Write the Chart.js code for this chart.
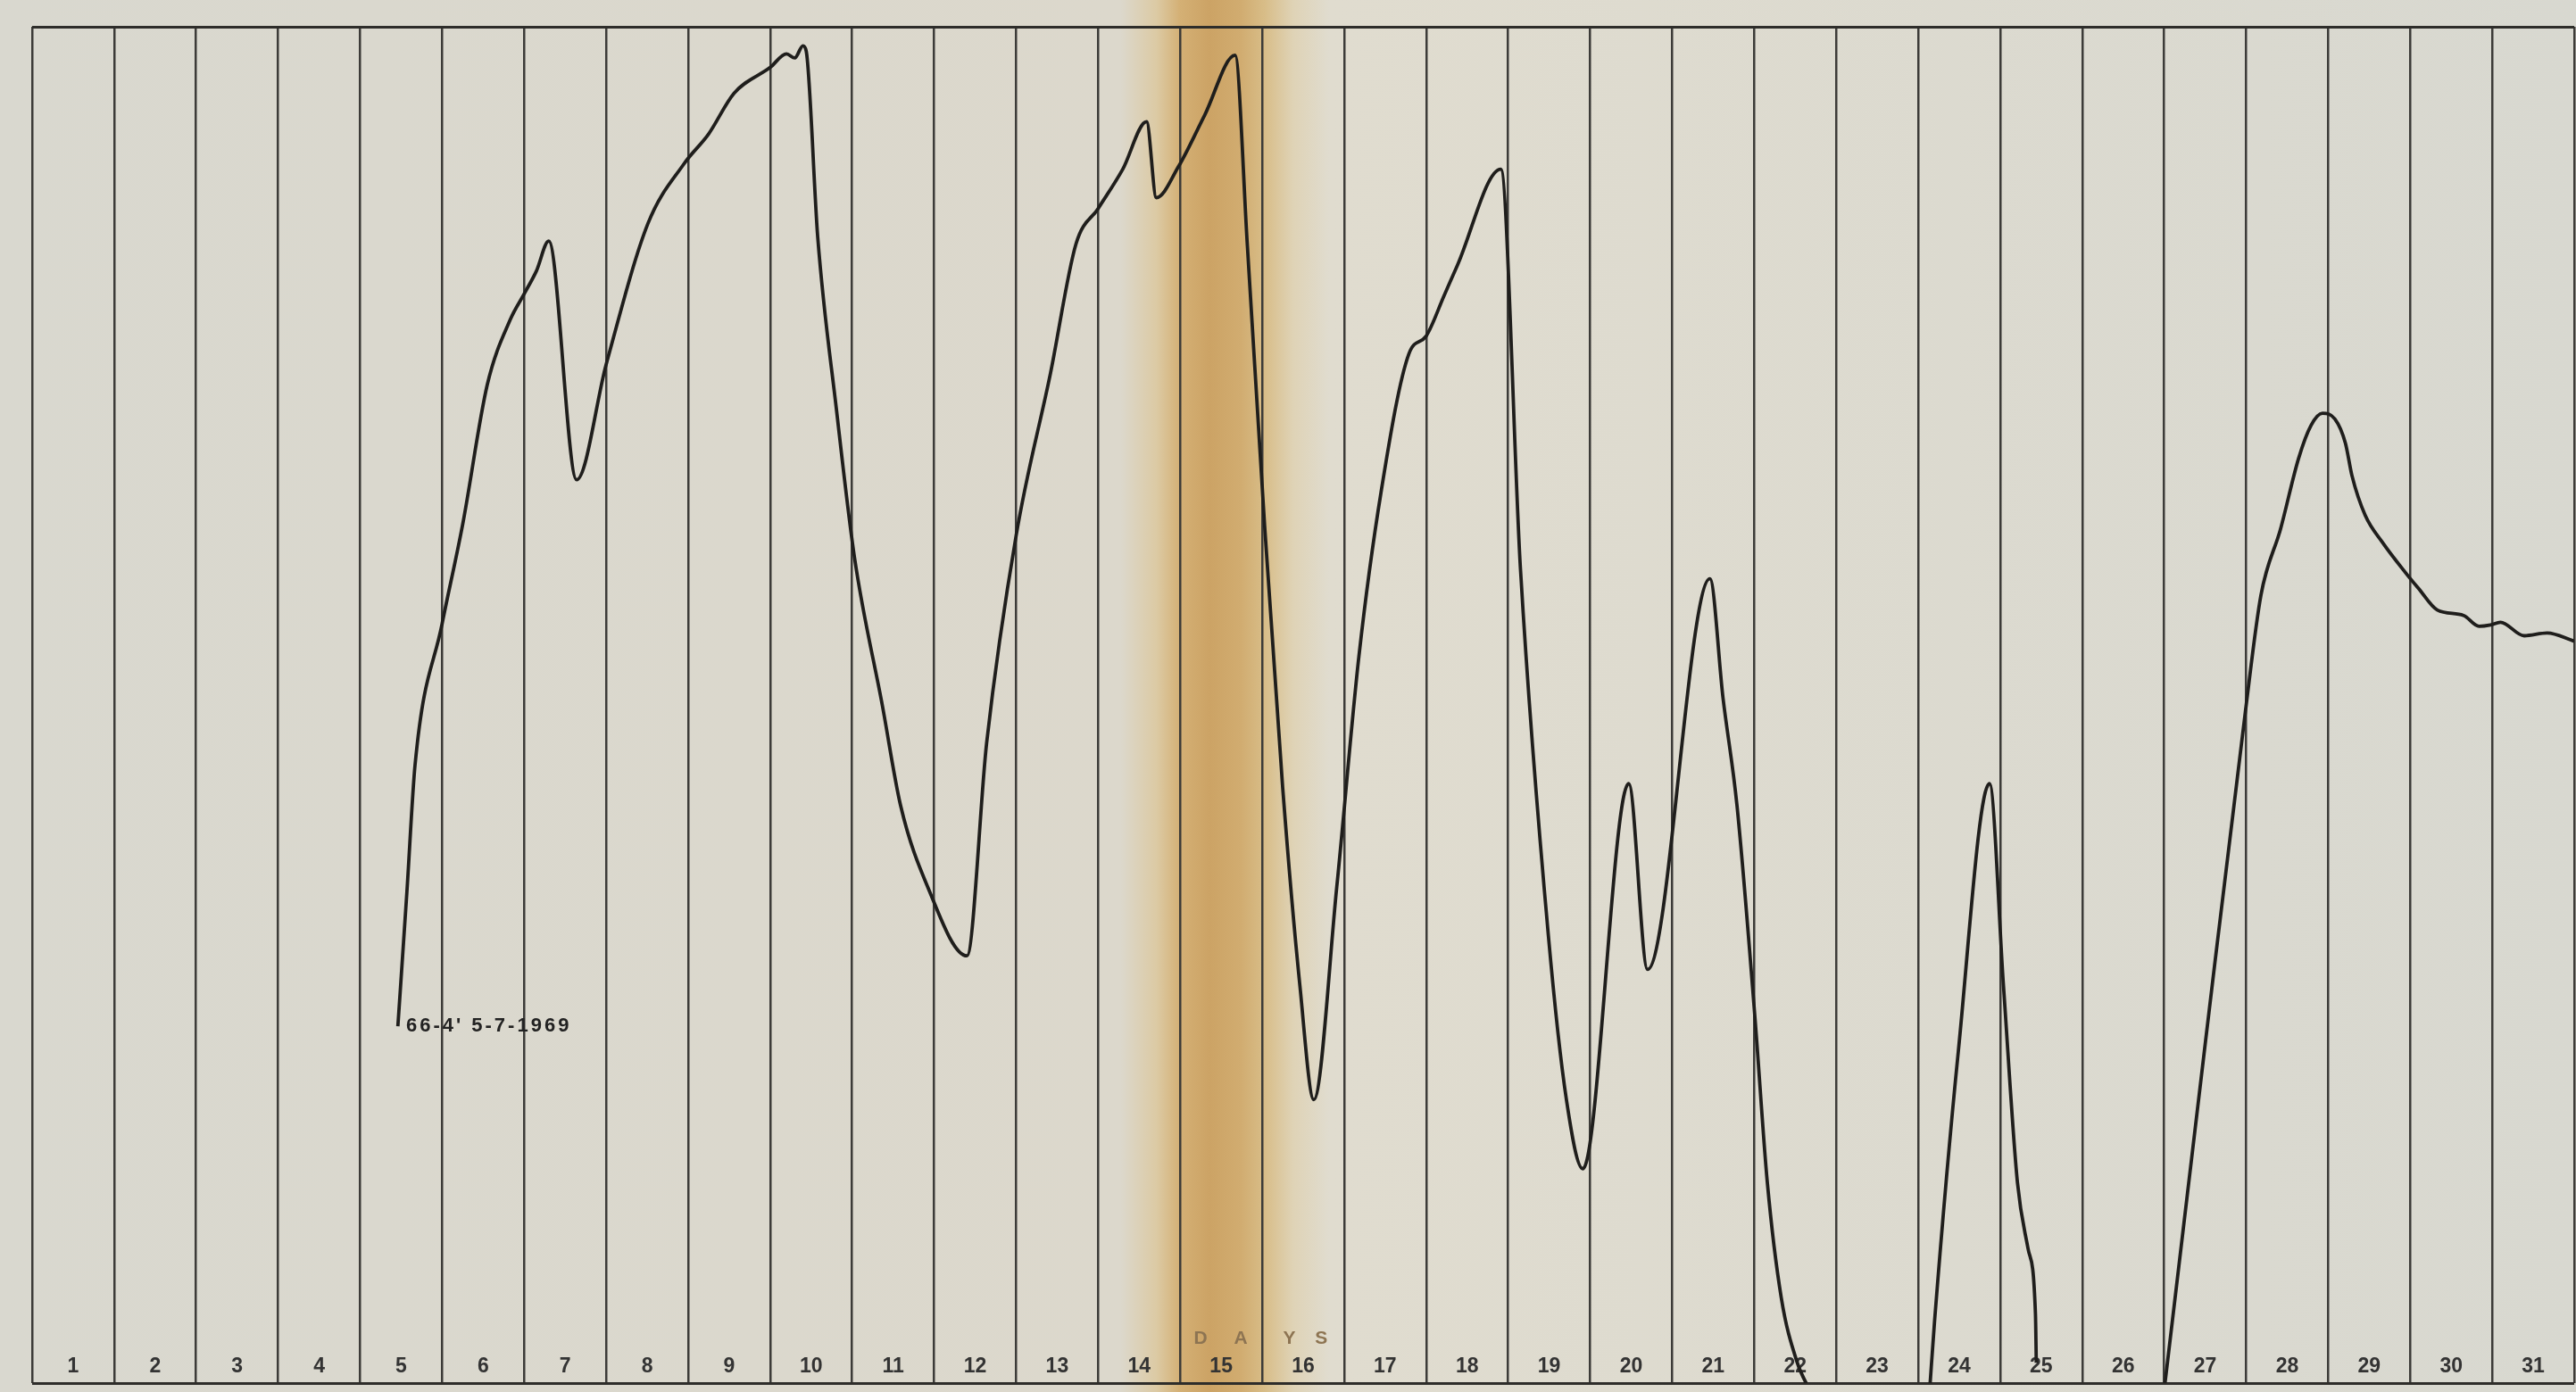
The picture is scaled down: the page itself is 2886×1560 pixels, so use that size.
<!DOCTYPE html>
<html>
<head>
<meta charset="utf-8">
<script src="https://cdn.jsdelivr.net/npm/chart.js@4.4.1/dist/chart.umd.min.js"></script>
<style>
  html, body { margin: 0; padding: 0; background: #dad9d1; }
  #wrap { width: 2886px; height: 1560px; }
</style>
</head>
<body>
<div id="wrap"><canvas id="chart"></canvas></div>
<script>
// day columns along the bottom
var dayLabels = ['1','2','3','4','5','6','7','8','9','10','11','12','13','14','15','16',
                 '17','18','19','20','21','22','23','24','25','26','27','28','29','30','31'];

// recorder trace, three pieces (the pen runs off the bottom of the sheet in between)
// x = position in days from the left edge, y = level (0 = bottom line, 100 = top line)
var seg1Days  = [4.46, 4.57, 4.67, 5.0, 5.25, 5.55, 5.83, 6.0, 6.15, 6.3, 6.64, 7.0, 7.51, 7.95, 8.25, 8.56,
                 9.0, 9.2, 9.3, 9.4, 9.44, 9.58, 9.81, 10.03, 10.37, 10.59, 10.92, 11.4, 11.64, 12.0, 12.42,
                 12.73, 13.0, 13.3, 13.59, 13.71, 13.98, 14.3, 14.67, 14.82, 15.03, 15.25, 15.46, 15.63,
                 15.91, 16.18, 16.45, 16.79, 17.0, 17.22, 17.38, 17.91, 18.15, 18.49, 18.71, 18.91, 19.47,
                 19.7, 20.46, 20.62, 20.79, 21.01, 21.16, 21.33, 21.52, 21.7];
var seg1Level = [26.3, 36.2, 45.6, 56, 63.3, 73.6, 78.4, 80.3, 82, 84.2, 66.6, 75.1, 85.5, 89.9, 92.1, 95.1,
                 97.0, 98.0, 97.7, 98.6, 98.2, 84.5, 71.7, 60.8, 49.9, 42.6, 36.6, 31.5, 47.2, 62.5, 74.5,
                 84, 86.6, 89.5, 93, 87.4, 89.7, 93.5, 97.9, 83.8, 63.2, 43.9, 29.3, 20.9,
                 36.6, 53.6, 65.7, 75.9, 77.2, 80.2, 82.4, 89.5, 60, 33, 20.9, 15.8, 44.2,
                 30.5, 59.3, 50.5, 42.6, 26.9, 14.8, 6.3, 1.6, -0.8];

var seg2Days  = [23.14, 23.2, 23.49, 23.87, 24.04, 24.21, 24.34, 24.43, 24.44];
var seg2Level = [-0.5, 4.6, 24.5, 44.2, 29.3, 14.8, 9.9, 5.1, 1.5];

var seg3Days  = [26.0, 26.1, 26.5, 26.99, 27.18, 27.42, 27.64, 27.79, 27.93, 28.08, 28.21, 28.29,
                 28.45, 28.66, 28.95, 29.1, 29.33, 29.65, 29.84, 29.98, 30.1, 30.39, 30.67, 31.0];
var seg3Level = [-0.5, 4.6, 25, 49.5, 58.1, 63, 68.2, 70.6, 71.5, 71.1, 69.3, 66.9,
                 64, 62, 59.7, 58.6, 57, 56.6, 55.8, 55.9, 56.1, 55.1, 55.3, 54.7];

var noteText = "66-4' 5-7-1969";
var axisWord = ['D', 'A', 'Y', 'S'];

function pairs(days, level)
{
    return days.map(function(d, i) { return { x: d, y: level[i] }; });
}

function trace(days, level)
{
    return {
        data: pairs(days, level),
        xAxisID: 'x',
        yAxisID: 'y',
        borderColor: '#1f1e1c',
        borderWidth: 3.8,
        pointRadius: 0,
        fill: false,
        cubicInterpolationMode: 'monotone'
    };
}

// old paper with the tan fold down the middle
var paperPlugin = {
    id: 'paper',
    beforeDraw: function(chart)
    {
        var ctx = chart.ctx, w = chart.width, h = chart.height;
        var g = ctx.createLinearGradient(0, 0, w, 0);
        g.addColorStop(0, '#d9d8cf');
        g.addColorStop(0.435, '#dcd8cc');
        g.addColorStop(0.449, '#dccaa4');
        g.addColorStop(0.458, '#d4b075');
        g.addColorStop(0.4695, '#cca365');
        g.addColorStop(0.4816, '#d1ac70');
        g.addColorStop(0.491, '#d8bd88');
        g.addColorStop(0.502, '#dfd3b6');
        g.addColorStop(0.516, '#e0dccf');
        g.addColorStop(1, '#d8d8d0');
        ctx.save();
        ctx.fillStyle = g;
        ctx.fillRect(0, 0, w, h);
        ctx.restore();
    }
};

var notesPlugin = {
    id: 'notes',
    afterDatasetsDraw: function(chart)
    {
        var ctx = chart.ctx, xs = chart.scales.x, ys = chart.scales.y;
        ctx.save();
        ctx.fillStyle = '#222';
        ctx.font = 'bold 22px "Liberation Sans", sans-serif';
        ctx.letterSpacing = '3px';
        ctx.textAlign = 'left';
        ctx.textBaseline = 'middle';
        ctx.fillText(noteText, xs.getPixelForValue(4.56), ys.getPixelForValue(26.3));

        var at = [14.25, 14.74, 15.33, 15.72];
        ctx.letterSpacing = '0px';
        ctx.font = 'bold 21px "Liberation Sans", sans-serif';
        ctx.fillStyle = '#8d7452';
        ctx.textAlign = 'center';
        axisWord.forEach(function(ch, i) {
            ctx.fillText(ch, xs.getPixelForValue(at[i]), ys.getPixelForValue(3.3));
        });
        ctx.restore();
    }
};

var config = {
    type: 'line',
    data: {
        datasets: [
            trace(seg1Days, seg1Level),
            trace(seg2Days, seg2Level),
            trace(seg3Days, seg3Level)
        ]
    },
    options: {
        responsive: true,
        maintainAspectRatio: false,
        animation: false,
        layout: { padding: { left: 36, top: 30, right: 2, bottom: 10 } },
        plugins: { legend: { display: false }, tooltip: { enabled: false } },
        scales: {
            x: {
                type: 'linear',
                min: 0,
                max: 31,
                ticks: { stepSize: 1, display: false },
                grid: { color: '#3c3b38', lineWidth: 2.5, drawTicks: false },
                border: { display: false }
            },
            days: {
                type: 'category',
                labels: dayLabels,
                position: 'bottom',
                offset: true,
                grid: { display: false, drawTicks: false },
                border: { display: false },
                ticks: {
                    autoSkip: false,
                    maxRotation: 0,
                    mirror: true,
                    padding: 5,
                    color: '#333',
                    font: { family: '"Liberation Sans Narrow", "Liberation Sans", sans-serif', size: 23, weight: 'bold' }
                },
                afterFit: function(scale) { scale.height = 0; }
            },
            y: {
                type: 'linear',
                min: 0,
                max: 100,
                ticks: { stepSize: 100, display: false },
                grid: { color: '#2e2d2a', lineWidth: 3, drawTicks: false },
                border: { display: false }
            }
        }
    },
    plugins: [paperPlugin, notesPlugin]
};

new Chart(document.getElementById('chart'), config);
</script>
</body>
</html>
